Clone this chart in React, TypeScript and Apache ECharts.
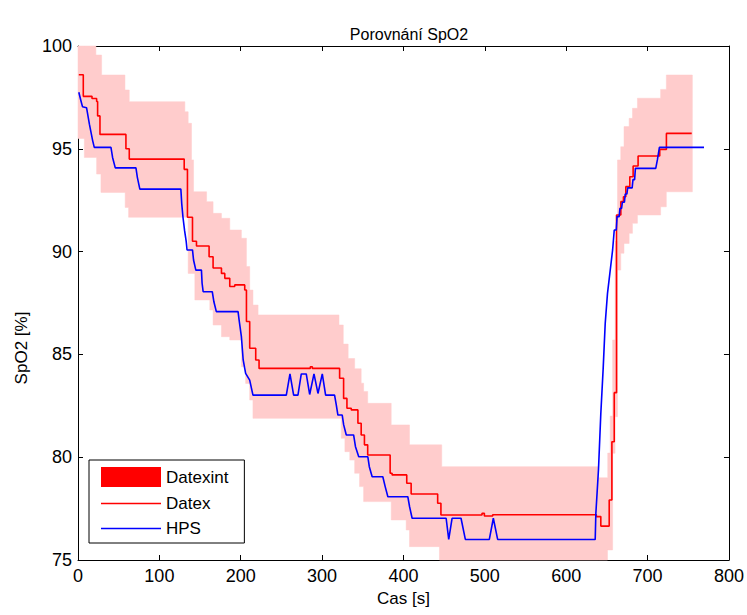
import React, { useEffect, useRef } from 'react';
import * as echarts from 'echarts';

const FONT = '"Liberation Sans", Arial, Helvetica, sans-serif';

// Datex (red) change points: value holds from t until next t
const datexPoints: [number, number][] = [
  [1, 98.6], [6.5, 97.55], [17.2, 97.45], [22.9, 97.3], [24.1, 96.6], [27, 95.7],
  [58.9, 95.0], [63, 94.5], [130.5, 94.0], [134.5, 91.67], [140.7, 90.5], [145.6, 90.27],
  [161.1, 89.75], [166, 89.2], [176.3, 88.94], [180.4, 88.7], [186.5, 88.3], [192.6, 88.38],
  [204.9, 88.13], [207, 86.6], [211, 85.3], [218.4, 84.73], [222.5, 84.32], [285.5, 84.4],
  [288, 84.32], [321.5, 83.84], [326.4, 82.86], [330.5, 82.38], [335.8, 82.3], [344, 81.65],
  [348, 81.08], [352, 80.6], [356, 80.11], [383.6, 79.22], [386, 79.14], [404, 78.73],
  [409.4, 78.21], [442, 77.76], [446, 77.19], [496.5, 77.27], [499.4, 77.14], [509.6, 77.2],
  [637, 77.11], [642.5, 76.65], [652.8, 77.92], [656.1, 80.75], [659, 83.14], [661.8, 91.78],
  [667.1, 92.43], [670.3, 92.67], [673.2, 93.16], [678.1, 93.64], [682.2, 94.16], [688.3, 94.65],
  [714.9, 94.97], [723.1, 95.75], [754.2, 95.75],
];

// HPS (blue) polyline vertices
const hpsPoints: [number, number][] = [
  [1, 97.75], [3.5, 97.35], [5.5, 97.05], [10.5, 97.0], [14, 96.2], [16, 95.8], [18, 95.4],
  [20, 95.07], [40.5, 95.07], [42.5, 94.58], [45.8, 94.07], [71.2, 94.07], [73, 93.6],
  [76, 93.04], [126.4, 93.04], [127.5, 92.32], [129, 91.67], [131, 91.02], [133, 90.48],
  [134, 90.08], [140.7, 90.08], [142, 89.59], [144.8, 89.1], [151.7, 89.1], [152.5, 88.46],
  [153.8, 88.05], [165, 88.05], [167, 87.56], [170, 87.08], [196.7, 87.08], [198, 86.67],
  [200.8, 85.86], [203, 84.73], [206, 84.08], [211, 83.75], [215, 83.02], [256, 83.02],
  [260.5, 84.05], [265, 83.02], [270.3, 83.02], [274.4, 84.05], [280.5, 84.05], [284.7, 83.05],
  [290, 84.05], [294.9, 83.1], [300.2, 84.05], [304.3, 83.02], [315.3, 83.02], [317.4, 82.54],
  [319.4, 82.05], [324.7, 82.05], [326.5, 81.57], [329.7, 81.08], [338.7, 81.08], [341, 80.51],
  [345, 80.02], [356.2, 80.02], [358, 79.54], [361.5, 79.05], [374.6, 79.05], [377.5, 78.57],
  [380.8, 78.08], [405.3, 78.08], [407.5, 77.59], [410.6, 77.03], [452.4, 77.03], [455.6, 76.0],
  [459.7, 77.03], [470.7, 77.03], [476, 76.0], [505.5, 76.0], [510.4, 77.03], [515.7, 76.0],
  [635.6, 76.0], [636.4, 77.27], [639.6, 79.38], [642.5, 82.13], [645.4, 84.32], [647.9, 86.51],
  [650.7, 87.97], [653.6, 88.94], [657, 90.08], [659, 91.05], [661.5, 91.05], [662.5, 91.7],
  [665, 91.7], [666, 92.1], [668, 92.1], [669, 92.4], [671.5, 92.4], [672.5, 92.8], [674.5, 92.8],
  [675.5, 93.1], [681, 93.1], [682, 93.5], [684, 93.5], [685, 94.05], [710, 94.05], [712, 94.46],
  [714.5, 95.07], [769.3, 95.07],
];

// Datexint band (step: row holds from t until next t)
const bandT = [
  0, 7.8, 22, 22.9, 28.2, 29, 57.7, 58, 62.2, 63, 131.3, 135.4, 139.5, 142, 143.6, 158, 162, 166,
  176.3, 186.5, 200.8, 206, 207, 211, 215, 221.3, 320.7, 323.5, 326, 328, 332, 334, 340, 346, 348,
  351, 356, 384.9, 403.3, 407.4, 444.2, 447, 639.6, 650.7, 651, 654, 657, 660, 663, 667, 671,
  677.3, 681.4, 687.5, 716, 723, 755,
];
const bandLow = [
  95.5, 94.58, 94.58, 93.77, 92.88, 92.88, 92.88, 92.15, 91.67, 91.67, 91.67, 88.94, 88.94, 88.94,
  87.65, 87.65, 87.16, 86.43, 85.86, 85.7, 84.4, 83.59, 83.59, 82.78, 81.89, 81.89, 81.89, 80.92,
  80.92, 80.27, 80.27, 79.86, 79.22, 78.57, 78.57, 77.84, 77.84, 76.95, 76.46, 75.65, 75, 75, 75,
  75.49, 75.49, 75.49, 80.19, 81.97, 89.1, 89.92, 90.4, 90.89, 91.38, 91.78, 92.18, 92.91, 92.91,
];
const bandHigh = [
  100, 100, 99.56, 99.56, 99.56, 98.59, 97.86, 97.86, 97.86, 97.29, 96.8, 96.24, 94.46, 92.91,
  92.91, 92.43, 92.43, 91.86, 91.62, 91.05, 90.65, 90.65, 89.27, 88.13, 87.4, 86.92, 86.43, 86.43,
  85.5, 85.5, 84.8, 84.8, 84.3, 84.3, 83.6, 83.2, 82.62, 81.57, 81.57, 80.6, 80.6, 79.54, 79.0,
  79.0, 80.2, 82.0, 85.7, 90.5, 94.46, 95.1, 96.08, 96.48, 96.97, 97.46, 97.89, 98.59, 98.59,
];

const LINE_ICON = 'path://M0 0H60V1.6H0Z';

export default function App() {
  const ref = useRef<HTMLDivElement>(null);
  useEffect(() => {
    const chart = echarts.init(ref.current!, null, { renderer: 'svg' });
    const bandData = bandT.map((t, i) => [t, bandLow[i], bandHigh[i]]);
    const axisCommon = {
      axisLine: { show: true, onZero: false, lineStyle: { color: '#000', width: 1 } },
      axisTick: { show: true, inside: true, length: 5, lineStyle: { color: '#000' } },
      splitLine: { show: false },
    };
    chart.setOption({
      animation: false,
      backgroundColor: '#fff',
      title: {
        text: 'Porovnání SpO2',
        left: 404,
        textAlign: 'center',
        top: 21,
        textStyle: { fontFamily: FONT, fontSize: 16, fontWeight: 'normal', color: '#000' },
      },
      grid: { left: 78, right: 17, top: 46, bottom: 55 },
      graphic: [
        {
          type: 'text',
          x: 21,
          y: 348,
          rotation: Math.PI / 2,
          style: {
            text: 'SpO2 [%]',
            fontFamily: FONT,
            fontSize: 17,
            fill: '#000',
            align: 'center',
            verticalAlign: 'middle',
          },
        },
      ],
      legend: {
        orient: 'vertical',
        left: 89,
        top: 460,
        itemWidth: 60,
        itemHeight: 20,
        itemGap: 8,
        padding: [7, 16, 6, 12],
        borderColor: '#000',
        borderWidth: 1,
        backgroundColor: '#fff',
        selectedMode: false,
        textStyle: { fontFamily: FONT, fontSize: 17, color: '#000' },
        data: [
          { name: 'Datexint', icon: 'rect', itemStyle: { color: '#ff0000' } },
          { name: 'Datex', icon: LINE_ICON, itemStyle: { color: '#ff0000' } },
          { name: 'HPS', icon: LINE_ICON, itemStyle: { color: '#0000ff' } },
        ],
      },
      xAxis: [
        {
          type: 'value', min: 0, max: 800, interval: 100, position: 'bottom',
          name: 'Cas [s]', nameLocation: 'middle', nameGap: 28,
          nameTextStyle: { fontFamily: FONT, fontSize: 17, color: '#000' },
          axisLabel: { fontFamily: FONT, fontSize: 18, color: '#000', margin: 7 },
          ...axisCommon,
        },
        {
          type: 'value', min: 0, max: 800, interval: 100, position: 'top',
          axisLabel: { show: false }, ...axisCommon,
        },
      ],
      yAxis: [
        {
          type: 'value', min: 75, max: 100, interval: 5, position: 'left',
          axisLabel: { fontFamily: FONT, fontSize: 18, color: '#000', margin: 6 },
          ...axisCommon,
        },
        {
          type: 'value', min: 75, max: 100, interval: 5, position: 'right',
          axisLabel: { show: false }, ...axisCommon,
        },
      ],
      series: [
        {
          name: 'Datexint',
          type: 'custom',
          xAxisIndex: 0,
          yAxisIndex: 0,
          itemStyle: { color: '#ff0000' },
          encode: { x: 0, y: [1, 2] },
          data: bandData,
          silent: true,
          renderItem: (params: any, api: any) => {
            if (params.dataIndex !== 0) return null;
            const upper: number[][] = [];
            const lower: number[][] = [];
            for (let i = 0; i < bandT.length - 1; i++) {
              upper.push(api.coord([bandT[i], bandHigh[i]]), api.coord([bandT[i + 1], bandHigh[i]]));
              lower.push(api.coord([bandT[i], bandLow[i]]), api.coord([bandT[i + 1], bandLow[i]]));
            }
            return {
              type: 'polygon',
              shape: { points: upper.concat(lower.reverse()) },
              style: { fill: '#ffcccc', stroke: '#ffcccc', lineWidth: 0.5 },
            };
          },
        },
        {
          name: 'Datex',
          type: 'line',
          step: 'end',
          symbol: 'none',
          data: datexPoints,
          itemStyle: { color: '#ff0000' },
          lineStyle: { color: '#ff0000', width: 1.6 },
        },
        {
          name: 'HPS',
          type: 'line',
          symbol: 'none',
          data: hpsPoints,
          itemStyle: { color: '#0000ff' },
          lineStyle: { color: '#0000ff', width: 1.6 },
        },
      ],
    });
    return () => chart.dispose();
  }, []);
  return (
    <div
      ref={ref}
      style={{ position: 'fixed', left: 0, top: 0, width: 747, height: 615, background: '#fff' }}
    />
  );
}
